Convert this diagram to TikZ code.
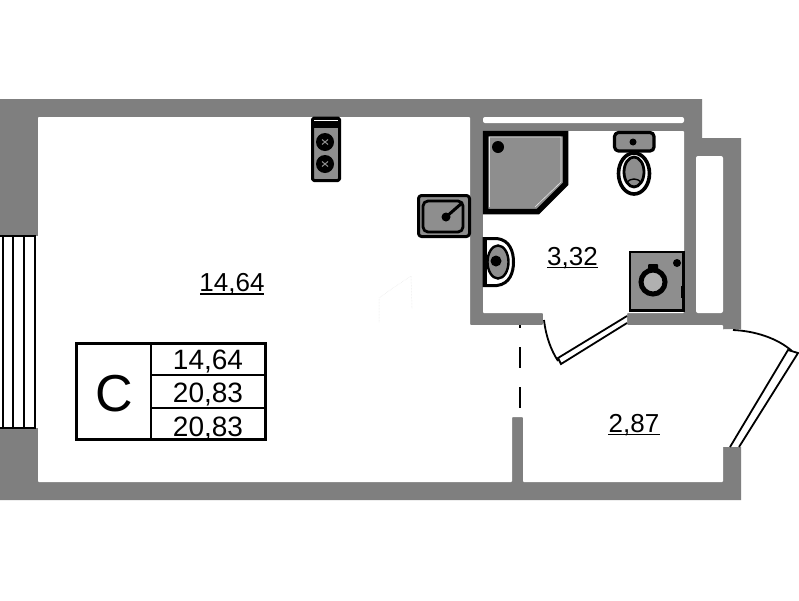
\documentclass[tikz,border=0pt]{standalone}
\usepackage{fontspec}
\setmainfont{Liberation Sans}
\definecolor{wallgray}{HTML}{7F7F7F}
\definecolor{fixgray}{HTML}{8E8E8E}
\tikzset{
  wall/.style={fill=wallgray},
  room/.style={fill=white,rounded corners=0.8},
  fixture/.style={fill=fixgray,draw=black,line width=3,line join=round},
  thinline/.style={draw=black,line width=1.8},
  tableline/.style={draw=black,line width=2.2},
  under/.style={draw=black,line width=1.7},
  area/.style={inner sep=0,font=\fontsize{26}{26}\selectfont},
  cell/.style={inner sep=0,font=\fontsize{28}{28}\selectfont}
}
\begin{document}
\begin{tikzpicture}[x=1pt,y=-1pt]
\useasboundingbox[fill=white] (0,0) rectangle (799,600);

% walls
\fill[wall] (-1,99) -- (702,99) -- (702,138) -- (741,138) -- (741,329) -- (723,329) -- (723,447) -- (741,447) -- (741,500) -- (-1,500) -- cycle;
\fill[room] (38,117) -- (470,117) -- (470,325) -- (543,325) -- (543,313) -- (483,313) -- (483,131) -- (684,131) -- (684,313) -- (627,313) -- (627,325) -- (723,325) -- (723,482) -- (523,482) -- (523,417) -- (512,417) -- (512,482) -- (38,482) -- cycle;
\fill[white] (723,329.5) rectangle (725,446.5);
\fill[white,rounded corners=2] (483,117) rectangle (684,123);
\fill[white,rounded corners=2] (696,156) rectangle (723,313);

% window
\fill[white] (-1,236) rectangle (38,428);
\draw[thinline] (0,236) -- (36,236);
\draw[thinline] (0,428) -- (36,428);
\foreach \x in {3,13,24,35} \draw[thinline] (\x,236) -- (\x,428);

% door of the bathroom
\coordinate (bathhinge) at (544,320);
\coordinate (bathtip) at (558,361);
\draw[thinline] (bathhinge) .. controls (546,337) and (551,350) .. (bathtip);
\draw[thinline] (627,316) -- (558,358) -- (561,364) -- (627,323);

% door of the balcony
\coordinate (balchinge) at (733,330);
\coordinate (balctip) at (792,351);
\draw[thinline] (balchinge) .. controls (755,331) and (777,338) .. (balctip);
\draw[thinline] (730,447) -- (788,350) -- (798,353) -- (739,447);

% dashed line
\draw[thinline] (520,325) -- (520,328);
\draw[thinline] (520,347) -- (520,368);
\draw[thinline] (520,387) -- (520,408);

% stove
\draw[fixture,rounded corners=1.5] (312.5,118) rectangle (339.5,180.5);
\fill (312,118) rectangle (340,128);
\draw[white,line width=0.8] (314,120.5) -- (338,120.5);
\foreach \y in {142,164}{
  \fill (325,\y) circle (9);
  \draw[fixgray,line width=1] (322,\y-2.5) -- (328,\y+2.5) (322,\y+2.5) -- (328,\y-2.5);
}

% kitchen sink
\draw[fixture,rounded corners=3] (418.5,195.5) rectangle (469.5,236.5);
\draw[fixture,rounded corners=5,line width=2.8] (423,201) rectangle (463,232);
\draw[line width=3,line cap=round] (446,217) -- (462,203);
\fill (446,217) circle (4.5);

% shower
\draw[fixture,line width=5.5,line join=miter] (485.5,133.5) -- (565.5,133.5) -- (565.5,184) -- (538,211.5) -- (485.5,211.5) -- cycle;
\draw[white!75!fixgray,line width=0.6] (489,137) -- (561,137) -- (561,182) -- (535,207);
\draw[white!75!fixgray,line width=0.6] (489,137) -- (489,207);
\fill (498,147) circle (6);

% toilet
\draw[fixture,rounded corners=4,line width=3.2] (614.5,132.5) rectangle (654,151);
\fill (633,142) circle (3.5);
\draw[fill=white,draw=black,line width=3.6] (634,173.5) ellipse (15.5 and 20.5);
\draw[fill=fixgray,draw=black,line width=2.8] (634,172) ellipse (10 and 15);
\draw[line width=1.4] (627,182) .. controls (631,178) and (637,178) .. (641,182);

% bathroom sink
\draw[fill=white,draw=black,line width=3] (484,238.5) -- (497,238.5) .. controls (510,240) and (513.5,252) .. (513.5,262) .. controls (513.5,272) and (510,284) .. (497,285.5) -- (484,285.5) -- cycle;
\fill (483,238) rectangle (487,286);
\draw[fill=fixgray,draw=black,line width=2.4] (498,262) ellipse (10.5 and 16.5);
\fill (496,261) circle (5.5);

% washing machine
\draw[fill=fixgray,draw=black,line width=2.6] (630,252) rectangle (683.5,310.5);
\fill[rounded corners=1] (648,264) rectangle (658,272);
\draw[fill=white!30!fixgray,draw=black,line width=5] (653,282) circle (12);
\fill (677,263) circle (4);
\fill (681,286) rectangle (683,298);

% faint mark on the floor
\draw[black!10,line width=0.5,densely dotted] (379,322) -- (379,298) -- (393,288) -- (411,276) -- (412,308);

% areas
\node[area] (roomarea) at (232,284) {14,64};
\node[area] (batharea) at (572.5,258) {3,32};
\node[area] (hallarea) at (634,425) {2,87};
\draw[under] (200,294) -- (264,294);
\draw[under] (547,267.5) -- (598,267.5);
\draw[under] (608,434.5) -- (660,434.5);

% table
\draw[tableline] (76.5,343.5) rectangle (265.5,439.5);
\draw[tableline] (151,343.5) -- (151,439.5);
\draw[tableline] (151,375) -- (265.5,375);
\draw[tableline] (151,408) -- (265.5,408);
\node[inner sep=0,font=\fontsize{52}{52}\selectfont] (flattype) at (114.5,394) {C};
\node[cell] (livingarea) at (208,362) {14,64};
\node[cell] (totalarea) at (208,394.5) {20,83};
\node[cell] (fullarea) at (208,429) {20,83};
\end{tikzpicture}
\end{document}
